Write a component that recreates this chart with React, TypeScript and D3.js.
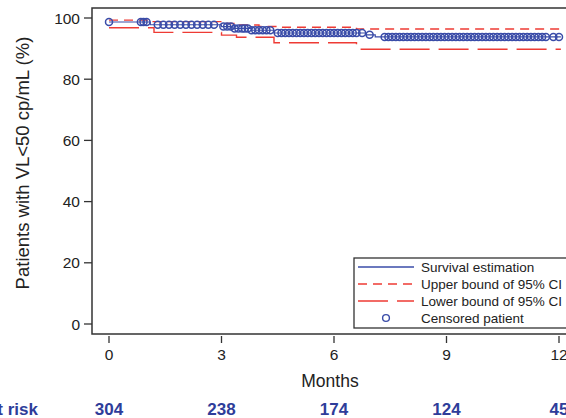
import React, { useEffect, useRef } from 'react';
import * as d3 from 'd3';

// Kaplan-Meier step estimate (time in months, value in %)
const survTimes = [0, 1.1, 3.0, 3.3, 3.8, 4.4, 6.85, 7.1];
const survValues = [98.7, 97.8, 97.2, 96.6, 96.0, 95.1, 94.5, 93.8];

const upperTimes = [0, 1.1, 3.0, 3.4, 4.0, 4.5, 6.6];
const upperValues = [99.3, 98.8, 98.2, 97.7, 97.2, 97.0, 96.4];

const lowerTimes = [0, 1.2, 3.0, 3.4, 4.4, 6.6];
const lowerValues = [96.8, 95.3, 94.4, 93.7, 91.9, 89.8];

const censoredTimes = [
  0, 0.85, 0.92, 1.0, 1.3, 1.45, 1.6, 1.75, 1.9, 2.05, 2.2, 2.35, 2.5, 2.65,
  2.8, 3.05, 3.15, 3.25, 3.35, 3.45, 3.55, 3.62, 3.7, 3.8, 3.9, 4.0, 4.1,
  4.2, 4.3, 4.5, 4.6, 4.7, 4.8, 4.9, 5.0, 5.1, 5.2, 5.3, 5.4, 5.5, 5.6, 5.7,
  5.8, 5.9, 6.0, 6.1, 6.2, 6.3, 6.4, 6.5, 6.6, 6.75, 6.95, 7.35, 7.45, 7.55,
  7.65, 7.75, 7.85, 7.95, 8.05, 8.15, 8.25, 8.35, 8.45, 8.55, 8.65, 8.75,
  8.85, 8.95, 9.05, 9.15, 9.25, 9.35, 9.45, 9.55, 9.65, 9.75, 9.85, 9.95,
  10.05, 10.15, 10.25, 10.35, 10.45, 10.55, 10.65, 10.75, 10.85, 10.95,
  11.05, 11.15, 11.25, 11.35, 11.45, 11.55, 11.65, 11.85, 12.0,
];

const xTicks = [0, 3, 6, 9, 12];
const yTicks = [0, 20, 40, 60, 80, 100];
const atRisk = [304, 238, 174, 124, 45];

const legendItems = ['Survival estimation', 'Upper bound of 95% CI', 'Lower bound of 95% CI', 'Censored patient'];

const BLUE = '#3a4ca8';
const RED = '#ee3b34';
const DARK = '#333';

const App = () => {
  const svgRef = useRef<SVGSVGElement>(null);

  useEffect(() => {
    const width = 566;
    const height = 418;
    const svg = d3.select(svgRef.current).attr('width', width).attr('height', height);
    svg.selectAll('*').remove();

    const frame = { left: 92, top: 8, bottom: 334, right: 600 };
    const x = d3.scaleLinear().domain([0, 12]).range([109, 559]);
    const y = d3.scaleLinear().domain([0, 100]).range([324, 18]);
    const font = 'Liberation Sans, Arial, sans-serif';

    const stepData = (times: number[], vals: number[]) => {
      const pts = times.map((t, i) => [t, vals[i]] as [number, number]);
      pts.push([12.05, vals[vals.length - 1]]);
      return pts;
    };
    const line = d3.line<[number, number]>()
      .x(d => x(d[0]))
      .y(d => y(d[1]))
      .curve(d3.curveStepAfter);

    // frame
    svg.append('path')
      .attr('d', `M${frame.right},${frame.top}H${frame.left}V${frame.bottom}H${frame.right}`)
      .attr('fill', 'none')
      .attr('stroke', DARK)
      .attr('stroke-width', 1.5);

    // y axis ticks
    const yg = svg.append('g');
    yg.selectAll('line').data(yTicks).enter().append('line')
      .attr('x1', 84).attr('x2', frame.left)
      .attr('y1', d => y(d)).attr('y2', d => y(d))
      .attr('stroke', DARK).attr('stroke-width', 1.3);
    yg.selectAll('text').data(yTicks).enter().append('text')
      .attr('x', 80).attr('y', d => y(d) + 5.5)
      .attr('text-anchor', 'end')
      .style('font-family', font).style('font-size', '15.5px').style('fill', '#222')
      .text(d => d);

    // x axis ticks
    const xg = svg.append('g');
    xg.selectAll('line').data(xTicks).enter().append('line')
      .attr('x1', d => x(d)).attr('x2', d => x(d))
      .attr('y1', 336).attr('y2', 343)
      .attr('stroke', DARK).attr('stroke-width', 1.3);
    xg.selectAll('text').data(xTicks).enter().append('text')
      .attr('x', d => x(d)).attr('y', 360)
      .attr('text-anchor', 'middle')
      .style('font-family', font).style('font-size', '15.5px').style('fill', '#222')
      .text(d => d);

    svg.append('text')
      .attr('x', 330).attr('y', 387)
      .attr('text-anchor', 'middle')
      .style('font-family', font).style('font-size', '17.5px').style('fill', '#222')
      .text('Months');

    svg.append('text')
      .attr('transform', 'translate(29,163) rotate(-90)')
      .attr('text-anchor', 'middle')
      .style('font-family', font).style('font-size', '18.5px').style('fill', '#222')
      .text('Patients with VL<50 cp/mL (%)');

    // at risk row
    svg.append('text')
      .attr('x', 38).attr('y', 415)
      .attr('text-anchor', 'end')
      .style('font-family', font).style('font-size', '17px').style('font-weight', 'bold').style('fill', '#2e3d9a')
      .text('Number at risk');
    svg.selectAll('text.risk').data(atRisk).enter().append('text')
      .attr('class', 'risk')
      .attr('x', (d, i) => x(xTicks[i])).attr('y', 415)
      .attr('text-anchor', 'middle')
      .style('font-family', font).style('font-size', '17px').style('font-weight', 'bold').style('fill', '#2e3d9a')
      .text(d => d);

    // curves
    svg.append('path')
      .attr('d', line(stepData(upperTimes, upperValues)))
      .attr('fill', 'none').attr('stroke', RED).attr('stroke-width', 1.4)
      .attr('stroke-dasharray', '9 6');
    svg.append('path')
      .attr('d', line(stepData(lowerTimes, lowerValues)))
      .attr('fill', 'none').attr('stroke', RED).attr('stroke-width', 1.4)
      .attr('stroke-dasharray', '30 9');
    svg.append('path')
      .attr('d', line(stepData(survTimes, survValues)))
      .attr('fill', 'none').attr('stroke', BLUE).attr('stroke-width', 1.2);

    const survAt = (t: number) => {
      let v = survValues[0];
      survTimes.forEach((st, i) => { if (t >= st) v = survValues[i]; });
      return v;
    };
    svg.append('g').selectAll('circle').data(censoredTimes).enter().append('circle')
      .attr('cx', d => x(d)).attr('cy', d => y(survAt(d)))
      .attr('r', 3.5)
      .attr('fill', 'none').attr('stroke', BLUE).attr('stroke-width', 1.5);

    // legend
    const lg = svg.append('g');
    lg.append('rect')
      .attr('x', 354).attr('y', 258).attr('width', 260).attr('height', 70)
      .attr('fill', 'white').attr('stroke', DARK).attr('stroke-width', 1.3);
    const rowY = [267, 284, 301, 318];
    const dashes = [null, '9 6', '30 9', null];
    const colors = [BLUE, RED, RED, BLUE];
    legendItems.forEach((label, i) => {
      if (i < 3) {
        lg.append('line')
          .attr('x1', 358).attr('x2', 414)
          .attr('y1', rowY[i]).attr('y2', rowY[i])
          .attr('stroke', colors[i]).attr('stroke-width', 1.4)
          .attr('stroke-dasharray', dashes[i]);
      } else {
        lg.append('circle')
          .attr('cx', 386).attr('cy', rowY[i]).attr('r', 3.4)
          .attr('fill', 'none').attr('stroke', BLUE).attr('stroke-width', 1.4);
      }
      lg.append('text')
        .attr('x', 421).attr('y', rowY[i] + 5)
        .style('font-family', font).style('font-size', '13.5px').style('fill', '#222')
        .text(label);
    });
  }, []);

  return (
    <svg ref={svgRef} style={{ position: 'absolute', left: 0, top: 0, display: 'block' }}></svg>
  );
};

export default App;
